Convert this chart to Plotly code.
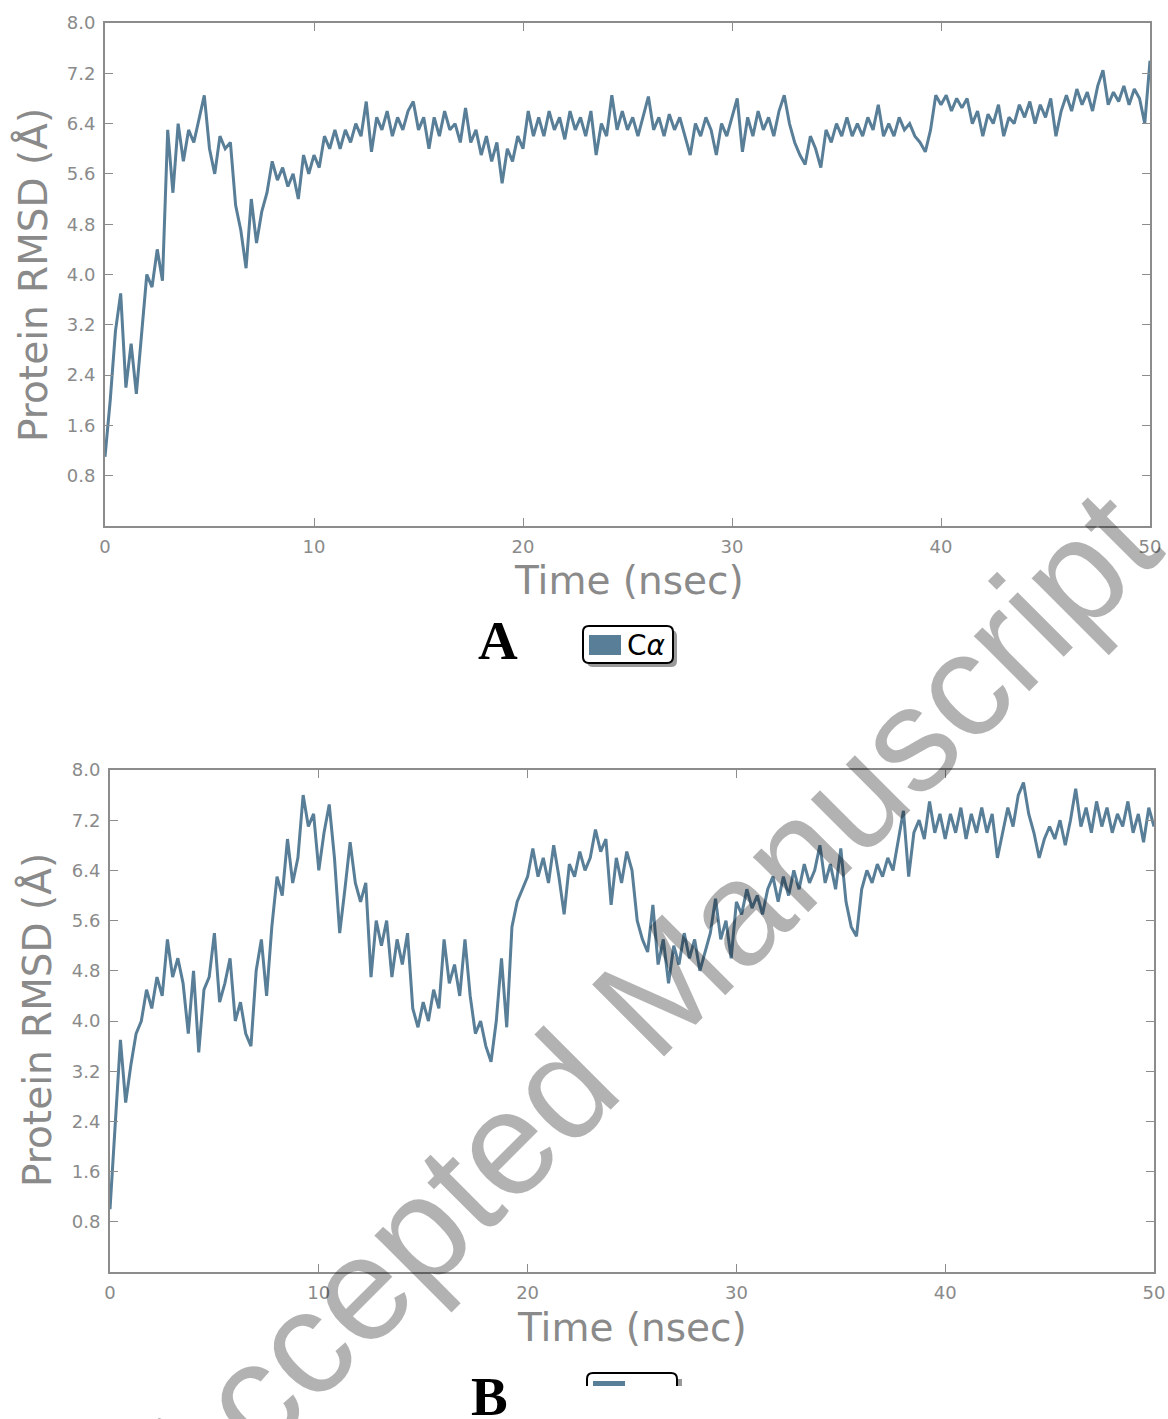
import plotly.graph_objects as go

W, H = 1168, 1419

# ---------------- data ----------------
TIME_STEP = 0.25  # ns between samples

rmsd_A = [
    1.1, 2.0, 3.1, 3.7, 2.2, 2.9, 2.1, 3.1, 4.0, 3.8,
    4.4, 3.9, 6.3, 5.3, 6.4, 5.8, 6.3, 6.1, 6.5, 6.85,
    6.0, 5.6, 6.2, 6.0, 6.1, 5.1, 4.7, 4.1, 5.2, 4.5,
    5.0, 5.3, 5.8, 5.5, 5.7, 5.4, 5.6, 5.2, 5.9, 5.6,
    5.9, 5.7, 6.2, 6.0, 6.3, 6.0, 6.3, 6.1, 6.4, 6.2,
    6.75, 5.95, 6.5, 6.3, 6.6, 6.2, 6.5, 6.3, 6.6, 6.75,
    6.3, 6.5, 6.0, 6.5, 6.2, 6.6, 6.3, 6.4, 6.1, 6.65,
    6.1, 6.3, 5.9, 6.2, 5.8, 6.1, 5.45, 6.0, 5.8, 6.2,
    6.0, 6.6, 6.2, 6.5, 6.2, 6.6, 6.3, 6.5, 6.15, 6.6,
    6.3, 6.5, 6.2, 6.6, 5.9, 6.4, 6.2, 6.85, 6.3, 6.6,
    6.3, 6.5, 6.2, 6.5, 6.83, 6.3, 6.5, 6.2, 6.55, 6.3,
    6.5, 6.2, 5.9, 6.4, 6.2, 6.5, 6.3, 5.9, 6.4, 6.2,
    6.5, 6.8, 5.95, 6.5, 6.2, 6.6, 6.3, 6.5, 6.2, 6.6,
    6.85, 6.4, 6.1, 5.9, 5.75, 6.2, 6.0, 5.7, 6.3, 6.1,
    6.4, 6.2, 6.5, 6.2, 6.4, 6.2, 6.5, 6.3, 6.7, 6.2,
    6.4, 6.2, 6.5, 6.3, 6.4, 6.2, 6.1, 5.95, 6.3, 6.85,
    6.7, 6.85, 6.6, 6.8, 6.65, 6.8, 6.4, 6.6, 6.2, 6.55,
    6.4, 6.7, 6.2, 6.5, 6.4, 6.7, 6.5, 6.75, 6.4, 6.7,
    6.5, 6.8, 6.2, 6.6, 6.85, 6.6, 6.95, 6.7, 6.9, 6.6,
    7.0, 7.25, 6.7, 6.9, 6.75, 7.0, 6.7, 6.95, 6.8, 6.4,
    7.4,
]

rmsd_B = [
    1.0, 2.3, 3.7, 2.7, 3.3, 3.8, 4.0, 4.5, 4.2, 4.7,
    4.4, 5.3, 4.7, 5.0, 4.6, 3.8, 4.8, 3.5, 4.5, 4.7,
    5.4, 4.3, 4.6, 5.0, 4.0, 4.3, 3.8, 3.6, 4.8, 5.3,
    4.4, 5.5, 6.3, 6.0, 6.9, 6.2, 6.6, 7.6, 7.1, 7.3,
    6.4, 7.0, 7.45, 6.6, 5.4, 6.1, 6.85, 6.2, 5.9, 6.2,
    4.7, 5.6, 5.2, 5.6, 4.7, 5.3, 4.9, 5.4, 4.2, 3.9,
    4.3, 4.0, 4.5, 4.2, 5.3, 4.6, 4.9, 4.4, 5.3, 4.4,
    3.8, 4.0, 3.6, 3.35, 4.0, 5.0, 3.9, 5.5, 5.9, 6.1,
    6.3, 6.75, 6.3, 6.6, 6.2, 6.8, 6.3, 5.7, 6.5, 6.3,
    6.7, 6.4, 6.6, 7.05, 6.7, 6.9, 5.85, 6.6, 6.2, 6.7,
    6.4, 5.6, 5.3, 5.1, 5.85, 4.9, 5.3, 4.6, 5.2, 4.9,
    5.4, 5.0, 5.3, 4.8, 5.1, 5.4, 5.95, 5.3, 5.6, 5.0,
    5.9, 5.7, 6.1, 5.8, 6.0, 5.7, 6.1, 6.3, 5.9, 6.3,
    6.0, 6.4, 6.1, 6.5, 6.2, 6.4, 6.8, 6.2, 6.5, 6.1,
    6.75, 5.9, 5.5, 5.35, 6.1, 6.4, 6.2, 6.5, 6.3, 6.6,
    6.4, 6.9, 7.35, 6.3, 7.0, 7.2, 6.9, 7.5, 7.0, 7.3,
    6.9, 7.3, 7.0, 7.4, 6.9, 7.3, 7.0, 7.4, 7.0, 7.3,
    6.6, 7.0, 7.4, 7.1, 7.6, 7.8, 7.3, 7.0, 6.6, 6.9,
    7.1, 6.9, 7.2, 6.8, 7.2, 7.7, 7.1, 7.4, 7.0, 7.5,
    7.1, 7.4, 7.0, 7.3, 7.1, 7.5, 7.0, 7.3, 6.85, 7.4,
    7.1,
]

time_A = [round(i * TIME_STEP, 2) for i in range(len(rmsd_A))]
time_B = [round(i * TIME_STEP, 2) for i in range(len(rmsd_B))]

x_ticks = [0, 10, 20, 30, 40, 50]
x_tick_labels = ["0", "10", "20", "30", "40", "50"]
y_ticks = [0.8, 1.6, 2.4, 3.2, 4.0, 4.8, 5.6, 6.4, 7.2, 8.0]
y_tick_labels = ["0.8", "1.6", "2.4", "3.2", "4.0", "4.8", "5.6", "6.4", "7.2", "8.0"]

x_title = "Time (nsec)"
y_title = "Protein RMSD (Å)"
legend_label = "C<i>α</i>"
panel_labels = ["A", "B"]
watermark = "Accepted Manuscript"

# ---------------- styling ----------------
LINE = "#587e98"
AXIS = "#8c8c8c"
TXT = "#8a8a8a"


def px(x):
    return x / W


def py(y):
    return 1 - y / H


fig = go.Figure()
fig.add_trace(go.Scatter(x=time_A, y=rmsd_A, mode="lines",
                         line=dict(color=LINE, width=3), xaxis="x", yaxis="y",
                         showlegend=False))
fig.add_trace(go.Scatter(x=time_B, y=rmsd_B, mode="lines",
                         line=dict(color=LINE, width=3), xaxis="x2", yaxis="y2",
                         showlegend=False))

axis_common = dict(showline=True, linecolor=AXIS, linewidth=2, mirror="ticks",
                   ticks="inside", ticklen=8, tickwidth=1, tickcolor=AXIS,
                   showgrid=False, zeroline=False, automargin=False,
                   tickfont=dict(family="DejaVu Sans", size=18, color=TXT))

fig.update_layout(
    width=W, height=H,
    margin=dict(l=0, r=0, t=0, b=0, autoexpand=False),
    paper_bgcolor="white", plot_bgcolor="white",
    xaxis=dict(domain=[px(105), px(1150)], range=[0, 50], anchor="y",
               tickvals=x_ticks, ticktext=x_tick_labels, ticklabelstandoff=3,
               **axis_common),
    yaxis=dict(domain=[py(526), py(23)], range=[0, 8], anchor="x",
               tickvals=y_ticks, ticktext=y_tick_labels, ticklabelstandoff=4,
               **axis_common),
    xaxis2=dict(domain=[px(110), px(1154)], range=[0, 50], anchor="y2",
                tickvals=x_ticks, ticktext=x_tick_labels, ticklabelstandoff=3,
                **axis_common),
    yaxis2=dict(domain=[py(1272), py(770)], range=[0, 8], anchor="x2",
                tickvals=y_ticks, ticktext=y_tick_labels, ticklabelstandoff=4,
                **axis_common),
)


def rrect_path(x0, y0, x1, y1, r):
    pts = [
        ("M", [(x0 + r, y0)]),
        ("L", [(x1 - r, y0)]),
        ("Q", [(x1, y0), (x1, y0 + r)]),
        ("L", [(x1, y1 - r)]),
        ("Q", [(x1, y1), (x1 - r, y1)]),
        ("L", [(x0 + r, y1)]),
        ("Q", [(x0, y1), (x0, y1 - r)]),
        ("L", [(x0, y0 + r)]),
        ("Q", [(x0, y0), (x0 + r, y0)]),
    ]
    s = ""
    for cmd, ps in pts:
        s += cmd + " " + " ".join(f"{px(a):.5f},{py(b):.5f}" for a, b in ps) + " "
    return s + "Z"


def top_open_path(x0, y0, x1, ycut, r):
    s = f"M {px(x0):.5f},{py(ycut):.5f} L {px(x0):.5f},{py(y0 + r):.5f} "
    s += f"Q {px(x0):.5f},{py(y0):.5f} {px(x0 + r):.5f},{py(y0):.5f} "
    s += f"L {px(x1 - r):.5f},{py(y0):.5f} "
    s += f"Q {px(x1):.5f},{py(y0):.5f} {px(x1):.5f},{py(y0 + r):.5f} "
    s += f"L {px(x1):.5f},{py(ycut):.5f}"
    return s


shapes = []
# Legend A
shapes.append(dict(type="path", xref="paper", yref="paper",
                   path=rrect_path(587, 630, 677, 667, 6),
                   fillcolor="#9a9a9a", line=dict(width=0)))
shapes.append(dict(type="path", xref="paper", yref="paper",
                   path=rrect_path(583, 626, 673, 663, 6),
                   fillcolor="white", line=dict(color="black", width=2)))
shapes.append(dict(type="rect", xref="paper", yref="paper",
                   x0=px(589), x1=px(621), y0=py(655), y1=py(635),
                   fillcolor=LINE, line=dict(width=0)))
# Legend B (cut off at the bottom of the page)
shapes.append(dict(type="rect", xref="paper", yref="paper",
                   x0=px(677), x1=px(682), y0=py(1386), y1=py(1379),
                   fillcolor="#9a9a9a", line=dict(width=0)))
shapes.append(dict(type="path", xref="paper", yref="paper",
                   path=top_open_path(587, 1373, 677, 1386, 6),
                   line=dict(color="black", width=2)))
shapes.append(dict(type="rect", xref="paper", yref="paper",
                   x0=px(593), x1=px(625), y0=py(1386), y1=py(1381),
                   fillcolor=LINE, line=dict(width=0)))
fig.update_layout(shapes=shapes)

ann = []
for (cx, cy) in [(629, 580), (632, 1327)]:
    ann.append(dict(x=px(cx), y=py(cy), xref="paper", yref="paper", text=x_title,
                    showarrow=False, xanchor="center", yanchor="middle",
                    font=dict(family="DejaVu Sans", size=39, color=TXT)))
for (cx, cy) in [(33, 275), (37, 1020)]:
    ann.append(dict(x=px(cx), y=py(cy), xref="paper", yref="paper", text=y_title,
                    showarrow=False, xanchor="center", yanchor="middle", textangle=-90,
                    font=dict(family="DejaVu Sans", size=39, color=TXT)))
for lab, (cx, cy) in zip(panel_labels, [(498, 640), (489, 1396)]):
    ann.append(dict(x=px(cx), y=py(cy), xref="paper", yref="paper",
                    text=f"<b>{lab}</b>", showarrow=False,
                    xanchor="center", yanchor="middle",
                    font=dict(family="Liberation Serif", size=55, color="black")))
ann.append(dict(x=px(646), y=py(645), xref="paper", yref="paper", text=legend_label,
                showarrow=False, xanchor="center", yanchor="middle",
                font=dict(family="DejaVu Sans", size=28, color="black")))
ann.append(dict(x=px(642), y=py(1005), xref="paper", yref="paper", text=watermark,
                showarrow=False, xanchor="center", yanchor="middle", textangle=-45,
                font=dict(family="Liberation Sans", size=148, color="rgba(0,0,0,0.3)")))
fig.update_layout(annotations=ann)

fig.write_html(
    "out.html",
    config={"displayModeBar": False},
    post_script="document.body.style.margin='0';document.body.style.overflow='hidden';",
)
